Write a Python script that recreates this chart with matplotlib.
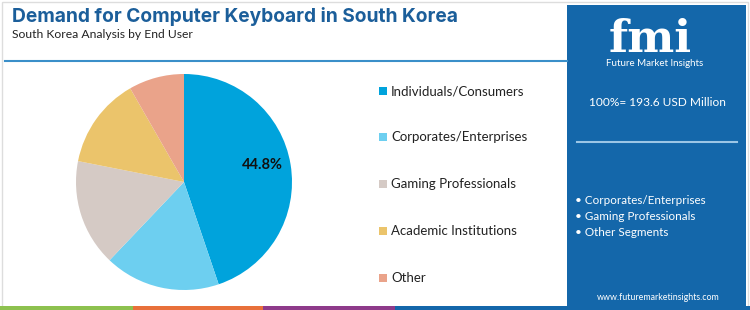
import numpy as np
import matplotlib.pyplot as plt
from matplotlib.patches import Rectangle

# данные
segments = ["Individuals/Consumers", "Corporates/Enterprises", "Gaming Professionals",
            "Academic Institutions", "Other"]
shares = [44.8, 17.3, 16.0, 13.6, 8.3]
colors = ["#00A3DC", "#6DCFF0", "#D5CAC5", "#EBC46B", "#EAA38A"]
total_label = "100%= 193.6 USD Million"
panel_items = ["Corporates/Enterprises", "Gaming Professionals", "Other Segments"]
strip_colors = ["#8DC14F", "#E8703A", "#8E3A8A", "#1467AA"]
strip_edges = [0, 133, 263, 395, 750]

W, H = 750, 310
fig = plt.figure(figsize=(7.5, 3.1), dpi=100)
plt.rcParams['font.family'] = ['Lato', 'DejaVu Sans']

bg = fig.add_axes([0, 0, 1, 1])
bg.set_xlim(0, W)
bg.set_ylim(H, 0)
bg.axis('off')

# рамка вокруг
bg.add_patch(Rectangle((2, 2), W - 4, H - 4, fill=False, ec="#DDDDDD", lw=1))

# заголовок
bg.text(12, 17, "Demand for Computer Keyboard in South Korea", fontsize=13.8,
        fontweight='bold', color="#1B5E9A", va='center', family=['Inter', 'DejaVu Sans'])
bg.text(12, 35, "South Korea Analysis by End User", fontsize=8.7, color="#222222", va='center')
bg.plot([5, 567], [61, 61], color="#3A8FC9", lw=1.5)

# нижняя полоса
for i, c in enumerate(strip_colors):
    bg.add_patch(Rectangle((strip_edges[i], 306), strip_edges[i + 1] - strip_edges[i], 4,
                           color=c, lw=0))

# правая панель
bg.add_patch(Rectangle((567, 5), 179, 302, color="#1467AA", lw=0))
bg.text(650, 52, "fmi", fontsize=32, fontweight='bold', color="white", ha='center',
        va='baseline', family=['DejaVu Serif'])
bg.text(655, 64, "Future Market Insights", fontsize=7, color="white", ha='center', va='center')
bg.text(657, 103, total_label, fontsize=8.6, color="white", ha='center', va='center')
bg.plot([577, 737], [142, 142], color="#9CC6E6", lw=1.5)
for i, item in enumerate(panel_items):
    bg.text(575, 201 + 16 * i, "\u2022 " + item, fontsize=8.4, color="white", va='center')
bg.text(658, 297, "www.futuremarketinsights.com", fontsize=6.4, color="white",
        ha='center', va='center')

# легенда
leg_y = [91, 137, 184, 231, 278]
for name, c, y in zip(segments, colors, leg_y):
    bg.add_patch(Rectangle((379, y - 4), 8, 8, color=c, lw=0))
    bg.text(391, y, name, fontsize=9.5, color="#222222", va='center')

# круговая диаграмма
ax = fig.add_axes([76 / W, (H - 290) / H, 216 / W, 216 / H])
ax.pie(shares, colors=colors, startangle=90, counterclock=False,
       wedgeprops=dict(linewidth=0))
ax.set_xlim(-1, 1)
ax.set_ylim(-1, 1)
mid = np.deg2rad(90 - shares[0] / 100 * 360 / 2)
ax.text(0.74 * np.cos(mid), 0.74 * np.sin(mid) + 0.04, f"{shares[0]}%", fontsize=10.5,
        fontweight='bold', ha='center', va='center', color="#111111")

fig.savefig("out.png", dpi=100)
